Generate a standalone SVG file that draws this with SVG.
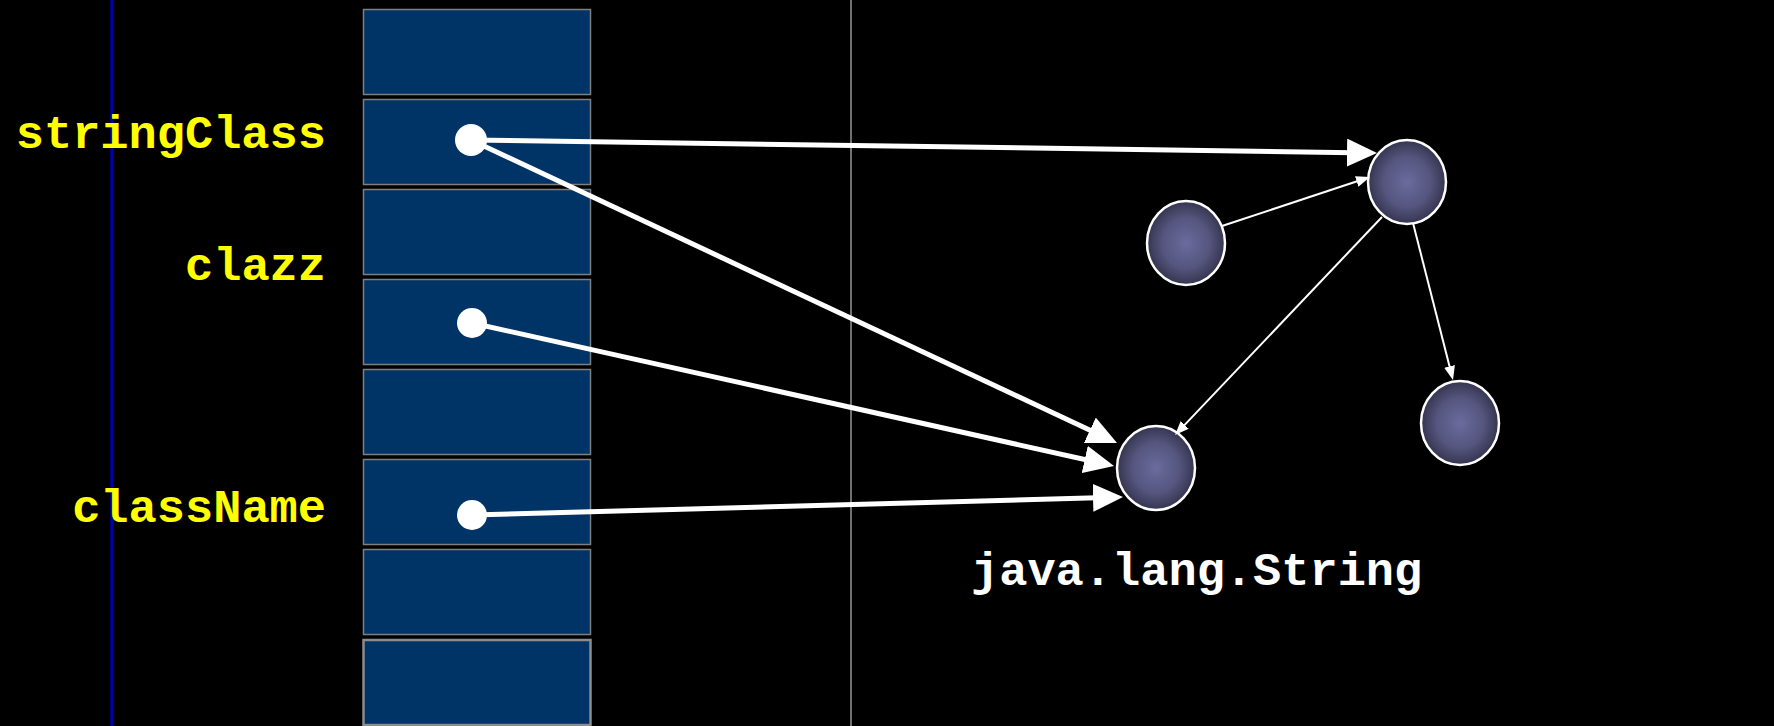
<svg xmlns="http://www.w3.org/2000/svg" width="1774" height="726" viewBox="0 0 1774 726">
<style>
.slot{fill:#003366;stroke:#7f7f7f;stroke-width:1.5}
.lbl{font-family:"Liberation Mono","Courier New",monospace;font-weight:bold;font-size:47px;fill:#ffff00;text-anchor:end}
.name{font-family:"Liberation Mono","Courier New",monospace;font-weight:bold;font-size:47px;fill:#ffffff}
.obj{fill:url(#og);stroke:#ffffff;stroke-width:2.5}
.thick{stroke:#ffffff;stroke-width:5;fill:none;marker-end:url(#ah)}
.thin{stroke:#ffffff;stroke-width:2;fill:none;marker-end:url(#as)}
.dot{fill:#ffffff}
</style>
<defs>
<radialGradient id="og" cx="0.5" cy="0.5" r="0.5">
<stop offset="0" stop-color="#6b6b9e"/>
<stop offset="0.6" stop-color="#55557f"/>
<stop offset="1" stop-color="#35354f"/>
</radialGradient>
<marker id="ah" viewBox="0 0 30 28" refX="22" refY="14" markerWidth="30" markerHeight="28" markerUnits="userSpaceOnUse" orient="auto">
<path d="M0,0 L30,14 L0,28 z" fill="#ffffff"/>
</marker>
<marker id="as" viewBox="0 0 14 11" refX="10" refY="5.5" markerWidth="14" markerHeight="11" markerUnits="userSpaceOnUse" orient="auto">
<path d="M0,0 L14,5.5 L0,11 z" fill="#ffffff"/>
</marker>
</defs>
<rect x="0" y="0" width="1774" height="726" fill="#000000"/>
<line x1="112" y1="0" x2="112" y2="726" stroke="#0000a8" stroke-width="3.5"/>
<line x1="851" y1="0" x2="851" y2="726" stroke="#e0e0e0" stroke-width="1"/>
<g id="stack">
<rect class="slot" x="363.5" y="9.5" width="227" height="85"/>
<rect class="slot" x="363.5" y="99.5" width="227" height="85"/>
<rect class="slot" x="363.5" y="189.5" width="227" height="85"/>
<rect class="slot" x="363.5" y="279.5" width="227" height="85"/>
<rect class="slot" x="363.5" y="369.5" width="227" height="85"/>
<rect class="slot" x="363.5" y="459.5" width="227" height="85"/>
<rect class="slot" x="363.5" y="549.5" width="227" height="85"/>
<rect class="slot" x="363.5" y="640" width="227" height="85" style="stroke:#8c8c8c;stroke-width:2.5"/>
</g>
<g id="labels">
<text class="lbl" x="326" y="148">stringClass</text>
<text class="lbl" x="326" y="280">clazz</text>
<text class="lbl" x="326" y="522">className</text>
</g>
<g id="node-top"><ellipse class="obj" cx="1407" cy="182" rx="39" ry="42"/></g>
<g id="node-left"><ellipse class="obj" cx="1186" cy="243" rx="39" ry="42"/></g>
<g id="node-right"><ellipse class="obj" cx="1460" cy="423" rx="39" ry="42"/></g>
<g id="node-string">
<ellipse class="obj" cx="1156" cy="468" rx="39" ry="42"/>
<text class="name" x="971" y="585">java.lang.String</text>
</g>
<g id="connectors">
<line class="thick" x1="471" y1="140" x2="1369" y2="152.9"/>
<line class="thick" x1="471" y1="140" x2="1109.8" y2="439.6"/>
<line class="thick" x1="472" y1="323" x2="1106.2" y2="464.3"/>
<line class="thick" x1="472" y1="515" x2="1115" y2="497.2"/>
<line class="thin" x1="1222" y1="226" x2="1366.2" y2="178.3"/>
<line class="thin" x1="1382" y1="217" x2="1177.8" y2="432.1"/>
<line class="thin" x1="1413" y1="223" x2="1452" y2="376.1"/>
</g>
<g id="dots">
<circle class="dot" cx="471" cy="140" r="16"/>
<circle class="dot" cx="472" cy="323" r="15"/>
<circle class="dot" cx="472" cy="515" r="15"/>
</g>
</svg>
